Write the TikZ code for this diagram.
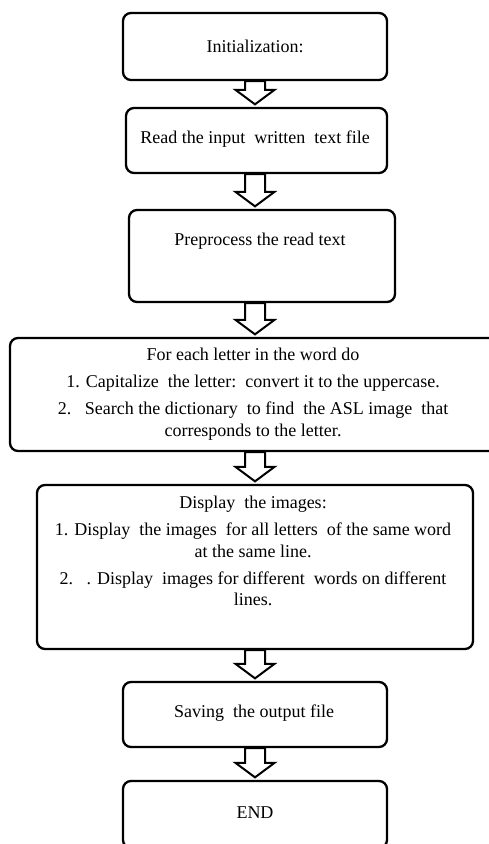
\documentclass[tikz,border=0pt]{standalone}
\usepackage{fontspec}
\setmainfont{Liberation Serif}
\usetikzlibrary{calc}
\newcommand\flowarrow[2]{%
  \draw[blockarrow] let \p1=(#1.south), \p2=(#2.north) in
    (245,\y1) -- (245,\y2+17) -- (235.5,\y2+17) -- (255,\y2+2.5)
    -- (274.5,\y2+17) -- (265,\y2+17) -- (265,\y1) -- cycle;}
\begin{document}
\begin{tikzpicture}[x=1pt,y=1pt,
  box/.style={draw, line width=2.3pt, rounded corners=8pt, inner sep=0pt},
  txt/.style={font=\fontsize{18}{21.5}\selectfont, align=center, inner sep=0pt},
  blockarrow/.style={draw, fill=white, line width=2pt, line join=miter}]
\useasboundingbox (0,0) rectangle (489,-844);
\clip (0,0) rectangle (489,-844);

% boxes
\node[box, minimum width=264pt, minimum height=67pt]  (b1) at (255,-46.5) {};
\node[box, minimum width=261pt, minimum height=65pt]  (b2) at (256.5,-140.5) {};
\node[box, minimum width=266pt, minimum height=92pt]  (b3) at (262,-256) {};
\node[box, minimum width=490pt, minimum height=113pt] (b4) at (255,-394.5) {};
\node[box, minimum width=436pt, minimum height=164pt] (b5) at (255,-567) {};
\node[box, minimum width=264pt, minimum height=65pt]  (b6) at (255,-714.5) {};
\node[box, minimum width=264pt, minimum height=67pt]  (b7) at (255,-814.5) {};

% texts
\node[txt] (t1) at (255,-46) {Initialization:};
\node[txt] (t2) at (255,-139) {Read the input\ \ written\ \ text file};
\node[txt] (t3) at (260,-241) {Preprocess the read text};
\node[txt] (t4) at (253,-394) {For each letter in the word do\\[5.5pt]
  1. Capitalize\ \ the letter:\ \ convert it to the uppercase.\\[5.5pt]
  2.\ \ \ Search the dictionary\ \ to find\ \ the ASL image\ \ that\\
  corresponds to the letter.};
\node[txt] (t5) at (253,-551) {Display\ \ the images:\\[5.5pt]
  1. Display\ \ the images\ \ for all letters\ \ of the same word\\
  at the same line.\\[5.5pt]
  2.\ \ \ . Display\ \ images for different\ \ words on different\\
  lines.};
\node[txt] (t6) at (254,-713) {Saving\ \ the output file};
\node[txt] (t7) at (255,-813) {END};

% connectors
\flowarrow{b1}{b2}
\flowarrow{b2}{b3}
\flowarrow{b3}{b4}
\flowarrow{b4}{b5}
\flowarrow{b5}{b6}
\flowarrow{b6}{b7}
\end{tikzpicture}
\end{document}
